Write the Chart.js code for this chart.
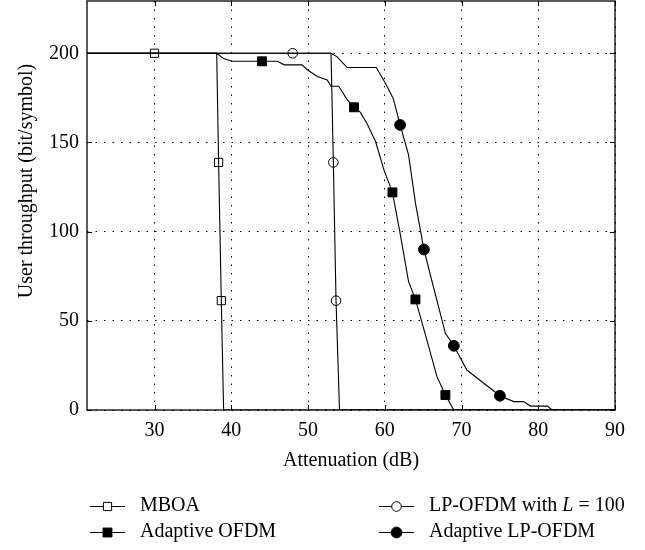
<!DOCTYPE html>
<html><head><meta charset="utf-8">
<script src="https://cdn.jsdelivr.net/npm/chart.js@4/dist/chart.umd.min.js"></script>
<style>html,body{margin:0;padding:0;background:#fff;}</style>
</head><body>
<canvas id="c" width="645" height="550" style="width:645px;height:550px;display:block"></canvas>
<script>
// ---- data ----
const xTicks = [30, 40, 50, 60, 70, 80, 90];
const yTicks = [0, 50, 100, 150, 200];

const mboaLineX = [20, 38.1, 38.35, 38.7, 39.0, 90];
const mboaLineY = [200, 200, 138.8, 61.3, 0, 0];
const mboaMarkX = [30, 38.35, 38.7];
const mboaMarkY = [200, 138.8, 61.3];

const lpLineX = [20, 53.0, 53.3, 53.65, 54.1, 90];
const lpLineY = [200, 200, 138.8, 61.3, 0, 0];
const lpMarkX = [48, 53.3, 53.65];
const lpMarkY = [200, 138.8, 61.3];

const aofdmLineX = [20, 38.1, 39.0, 40.1, 46.0, 46.9, 49.2, 50.0, 51.2, 52.5, 53.0, 54.0, 55.1, 56.0, 56.8, 57.7, 58.8, 59.9, 61.0, 62.0, 63.1, 64.0, 65.5, 66.8, 67.9, 69.0, 90];
const aofdmLineY = [200, 200, 197, 195.5, 195.5, 193.5, 193.5, 190.5, 187, 185, 181.5, 181.5, 174, 169.7, 167, 160.5, 150.5, 134.5, 122, 99, 72, 62, 39, 18.7, 8.4, 0, 0];
const aofdmMarkX = [44, 56.0, 61.0, 64.0, 67.9];
const aofdmMarkY = [195.5, 169.7, 122, 62, 8.4];

const alpLineX = [20, 53.0, 53.8, 55.1, 58.9, 60.1, 61.1, 62.0, 63.1, 64.0, 65.1, 66.0, 67.9, 69.0, 70.7, 72.9, 75.0, 76.8, 78.1, 79.0, 81.2, 81.8, 90];
const alpLineY = [200, 200, 198, 192, 192, 183, 174.7, 159.8, 143, 116, 90, 74.7, 43, 36, 22.4, 15, 8, 4.7, 4.7, 2.2, 2.2, 0, 0];
const alpMarkX = [62.0, 65.1, 69.0, 75.0];
const alpMarkY = [159.8, 90, 36, 8];

const legendLabels = ['MBOA', 'Adaptive OFDM', 'LP-OFDM with L = 100', 'Adaptive LP-OFDM'];
const xTitle = 'Attenuation (dB)';
const yTitle = 'User throughput (bit/symbol)';

// ---- build ----
const pts = (xs, ys) => xs.map((x, i) => ({x, y: ys[i]}));
const FONT = 'Liberation Serif';
const FS = 20;
const PLOT_TOP = 1;

const lineDS = (xs, ys) => ({type: 'line', data: pts(xs, ys), borderColor: '#000', borderWidth: 1.1, pointRadius: 0, tension: 0, fill: false});
const markDS = (xs, ys, style, filled, r) => ({type: 'line', data: pts(xs, ys), showLine: false, pointStyle: style, pointRadius: r, pointBackgroundColor: filled ? '#000' : '#fff', pointBorderColor: '#000', pointBorderWidth: 1, borderColor: '#000'});

const markerSpec = [
  {style: 'rect', filled: false, r: 5.8},
  {style: 'rect', filled: true, r: 6.3},
  {style: 'circle', filled: false, r: 4.8},
  {style: 'circle', filled: true, r: 5.4}
];

const topFixPlugin = {
  id: 'topfix',
  afterLayout(chart) {
    const y = chart.scales.y;
    const a = chart.chartArea;
    a.top = PLOT_TOP;
    a.height = a.bottom - a.top;
    y.top = PLOT_TOP;
    y.height = y.bottom - y.top;
    y.configure();
    y._labelItems = null;
    y._gridLineItems = null;
  }
};

const framePlugin = {
  id: 'frame',
  afterDraw(chart) {
    const {ctx, chartArea: a, scales} = chart;
    ctx.save();
    ctx.strokeStyle = '#000';
    ctx.lineWidth = 1.3;
    ctx.strokeRect(a.left, a.top, a.right - a.left, a.bottom - a.top);
    ctx.lineWidth = 1;
    const L = 5;
    ctx.beginPath();
    xTicks.forEach(v => {
      const px = Math.round(scales.x.getPixelForValue(v)) + 0.5;
      ctx.moveTo(px, a.bottom); ctx.lineTo(px, a.bottom - L);
      ctx.moveTo(px, a.top); ctx.lineTo(px, a.top + L);
    });
    yTicks.forEach(v => {
      const py = Math.round(scales.y.getPixelForValue(v)) + 0.5;
      ctx.moveTo(a.left, py); ctx.lineTo(a.left + L, py);
      ctx.moveTo(a.right, py); ctx.lineTo(a.right - L, py);
    });
    ctx.stroke();

    // axis titles
    ctx.fillStyle = '#000';
    ctx.font = FS + 'px "' + FONT + '"';
    ctx.textAlign = 'center';
    ctx.textBaseline = 'middle';
    ctx.fillText(xTitle, (a.left + a.right) / 2, 461);
    ctx.save();
    ctx.translate(27, 181);
    ctx.rotate(-Math.PI / 2);
    ctx.fillText(yTitle, 0, 0);
    ctx.restore();

    // legend
    const cols = [90, 379];
    const rows = [506, 532];
    const order = [[0, 0, 0], [1, 0, 1], [2, 1, 0], [3, 1, 1]];
    order.forEach(([i, c, r]) => {
      const x0 = cols[c], y = rows[r];
      ctx.lineWidth = 1.1;
      ctx.strokeStyle = '#000';
      ctx.beginPath();
      ctx.moveTo(x0, y + 0.5); ctx.lineTo(x0 + 35, y + 0.5);
      ctx.stroke();
      const m = markerSpec[i];
      ctx.lineWidth = 1;
      ctx.fillStyle = m.filled ? '#000' : '#fff';
      ctx.beginPath();
      if (m.style === 'rect') {
        const s = m.r * Math.SQRT1_2;
        ctx.rect(x0 + 17.5 - s, y + 0.5 - s, 2 * s, 2 * s);
      } else {
        ctx.arc(x0 + 17.5, y + 0.5, m.r, 0, Math.PI * 2);
      }
      ctx.fill(); ctx.stroke();
      ctx.fillStyle = '#000';
      ctx.textAlign = 'left';
      const tx = x0 + 50;
      if (i === 2) {
        const parts = [['LP-OFDM with ', 'normal'], ['L', 'italic'], [' = 100', 'normal']];
        let xx = tx;
        parts.forEach(([t, st]) => {
          ctx.font = (st === 'italic' ? 'italic ' : '') + FS + 'px "' + FONT + '"';
          ctx.fillText(t, xx, y);
          xx += ctx.measureText(t).width;
        });
        ctx.font = FS + 'px "' + FONT + '"';
      } else {
        ctx.fillText(legendLabels[i], tx, y);
      }
    });
    ctx.restore();
  }
};

const datasets = [
  lineDS(mboaLineX, mboaLineY),
  lineDS(lpLineX, lpLineY),
  lineDS(aofdmLineX, aofdmLineY),
  lineDS(alpLineX, alpLineY),
  markDS(mboaMarkX, mboaMarkY, 'rect', false, markerSpec[0].r),
  markDS(aofdmMarkX, aofdmMarkY, 'rect', true, markerSpec[1].r),
  markDS(lpMarkX, lpMarkY, 'circle', false, markerSpec[2].r),
  markDS(alpMarkX, alpMarkY, 'circle', true, markerSpec[3].r)
];

new Chart(document.getElementById('c'), {
  type: 'line',
  data: {datasets},
  options: {
    responsive: false,
    devicePixelRatio: 1,
    animation: false,
    layout: {padding: {left: 0, top: 1, right: 30, bottom: 0}},
    plugins: {legend: {display: false}, tooltip: {enabled: false}},
    scales: {
      x: {
        type: 'linear', min: 21.2, max: 90,
        afterBuildTicks: s => { s.ticks = xTicks.map(v => ({value: v})); },
        afterFit: s => { s.height = 140; s.paddingLeft = 0; s.paddingRight = 0; },
        ticks: {font: {family: FONT, size: FS}, color: '#000', padding: 9, maxRotation: 0, autoSkip: false},
        grid: {color: '#000', lineWidth: 1, drawTicks: false},
        border: {display: false, dash: [1.5, 7]}
      },
      y: {
        type: 'linear', min: 0, max: 229.3,
        afterBuildTicks: s => { s.ticks = yTicks.map(v => ({value: v})); },
        afterFit: s => { s.width = 87; s.paddingTop = 0; s.paddingBottom = 0; },
        ticks: {font: {family: FONT, size: FS}, color: '#000', padding: 8, autoSkip: false},
        grid: {color: '#000', lineWidth: 1, drawTicks: false},
        border: {display: false, dash: [1.5, 7]}
      }
    }
  },
  plugins: [topFixPlugin, framePlugin]
});
</script>
</body></html>
